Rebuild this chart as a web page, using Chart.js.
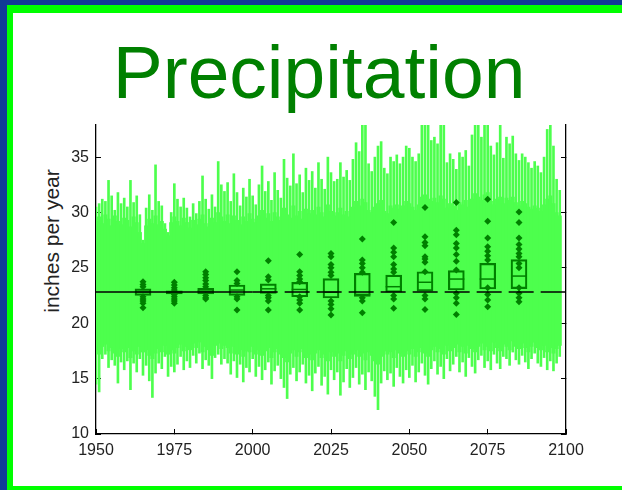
<!DOCTYPE html>
<html>
<head>
<meta charset="utf-8">
<script src="https://cdn.jsdelivr.net/npm/chart.js@4.4.0/dist/chart.umd.min.js"></script>
<style>
  html, body { margin: 0; padding: 0; }
  body {
    width: 622px; height: 490px; position: relative; overflow: hidden;
    background: #113a97; font-family: "Liberation Sans", Arial, sans-serif;
  }
  #frame { position: absolute; left: 7px; top: 5px; right: 0; bottom: 0; background: #00ff00; }
  #page { position: absolute; left: 13px; top: 13px; right: 0; bottom: 4px; background: #fff; }
  #title {
    position: absolute; left: 0; width: 638px; top: 35px;
    text-align: center; font-size: 75px; line-height: 75px; color: #008000;
  }
  #ylabel {
    position: absolute; left: 52px; top: 241px; white-space: nowrap;
    transform: translate(-50%, -50%) rotate(-90deg);
    font-size: 21px; color: #222;
  }
  #wrap { position: absolute; left: 0; top: 0; width: 622px; height: 490px; }
</style>
</head>
<body>
<div id="frame"></div>
<div id="page"></div>
<div id="title">Precipitation</div>
<div id="ylabel">inches per year</div>
<div id="wrap"><canvas id="precipChart"></canvas></div>

<script>
// ensemble spread, one value per year starting 1950
const firstYear = 1950;
// extreme members (spikes)
const envMax = [
  30.5, 30.8, 31.2, 31.0, 32.9, 31.5, 30.2, 31.8, 30.8, 31.3,
  30.5, 32.9, 30.9, 31.5, 29.8, 27.5, 30.4, 31.6, 30.2, 34.3,
  31.0, 30.6, 29.0, 28.2, 30.0, 32.6, 31.2, 30.5, 31.3, 30.4,
  29.6, 30.8, 29.9, 31.0, 33.3, 31.2, 30.3, 31.6, 30.5, 34.6,
  32.5, 31.9, 32.7, 31.0, 33.5, 31.8, 30.6, 32.2, 31.4, 33.0,
  31.5, 30.7, 32.5, 34.2, 31.9, 32.8, 31.1, 33.6, 32.0, 31.3,
  34.8, 33.1, 32.4, 35.3, 32.6, 33.4, 31.8, 34.0, 32.9, 33.7,
  32.2, 34.5, 33.0, 32.1, 35.0, 33.6, 32.8, 33.0, 34.5, 33.2,
  33.8, 32.9, 34.8, 36.3, 35.5, 37.9, 37.9, 34.4, 33.7, 35.0,
  36.0, 36.4, 34.0, 33.5, 35.0, 34.6, 35.2, 34.4, 35.0, 36.0,
  35.8, 35.0, 34.6, 35.3, 37.9, 37.9, 37.9, 36.5, 36.8, 36.2,
  37.9, 37.9, 34.5, 35.3, 34.8, 33.9, 35.4, 35.0, 35.6, 34.2,
  37.0, 37.9, 37.9, 36.8, 37.9, 37.9, 36.0, 35.2, 36.3, 37.9,
  34.9, 36.8, 36.2, 36.9, 35.3, 34.7, 35.3, 35.0, 34.5, 34.0,
  34.6, 34.2, 33.6, 35.0, 37.5, 37.9, 36.0, 33.0, 32.0
];
const envMin = [
  14.5, 13.8, 16.8, 17.2, 16.0, 16.7, 16.2, 14.6, 16.5, 15.8,
  16.6, 14.0, 16.4, 15.6, 16.8, 15.3, 16.2, 14.8, 13.3, 15.5,
  16.4, 15.9, 17.0, 15.2, 16.1, 15.6, 16.3, 17.0, 15.8, 16.6,
  16.0, 17.1, 16.4, 17.3, 15.9, 16.7, 16.2, 15.0, 16.9, 17.2,
  16.3, 16.8, 16.4, 15.4, 16.6, 15.1, 16.3, 14.7, 16.0, 15.6,
  16.8, 15.2, 16.1, 14.9, 15.8, 16.5, 14.5, 15.7, 16.2, 15.0,
  14.2, 13.2, 15.4, 16.0, 14.8, 15.6, 16.3, 14.6, 15.3, 13.9,
  15.5, 16.1, 14.4, 15.2, 13.6, 15.8, 14.9, 15.6, 13.5, 14.7,
  15.9, 14.2, 15.1, 16.0, 14.5, 15.4, 14.0, 15.6, 14.8, 13.4,
  12.2, 14.6, 15.7, 14.9, 15.5, 14.3, 16.0, 15.2, 14.6, 15.8,
  15.1, 16.2, 14.7, 15.6, 16.4, 15.3, 14.5, 15.9, 16.6, 15.4,
  16.1, 15.0, 16.8, 15.7, 16.3, 17.0, 15.6, 16.5, 15.2, 16.9,
  16.1, 15.5, 16.7, 17.1, 16.0, 16.6, 15.8, 17.2, 16.4, 15.9,
  17.0, 16.8, 16.2, 17.4, 16.7, 16.3, 17.1, 16.5, 15.9, 16.8,
  17.3, 16.4, 16.1, 16.9, 15.8, 16.6, 15.7, 16.4, 17.0
];
// solid core of the ensemble
const denseHi = [
  29.2, 29.6, 29.0, 29.8, 29.4, 28.8, 29.7, 29.2, 28.9, 29.5,
  29.3, 28.7, 29.6, 29.1, 28.2, 27.2, 28.8, 29.4, 29.0, 29.7,
  28.9, 29.2, 28.5, 27.9, 29.1, 29.6, 29.2, 28.8, 29.5, 29.1,
  28.6, 29.3, 28.9, 29.4, 29.8, 29.0, 28.7, 29.5, 29.1, 30.0,
  29.6, 29.2, 29.8, 29.0, 29.7, 29.3, 28.9, 29.6, 29.2, 29.9,
  29.4, 29.1, 29.7, 30.2, 29.5, 29.9, 29.2, 30.0, 29.6, 29.3,
  30.4, 29.8, 29.5, 30.6, 29.7, 30.1, 29.4, 30.3, 29.9, 30.2,
  29.8, 30.5, 30.0, 29.6, 30.7, 30.1, 29.7, 30.0, 30.4, 29.8,
  30.1, 29.6, 30.5, 31.0, 30.6, 31.2, 30.9, 30.2, 30.0, 30.5,
  30.8, 31.1, 30.1, 29.9, 30.6, 30.4, 30.7, 30.3, 30.6, 31.0,
  30.8, 30.5, 30.2, 30.7, 31.4, 31.6, 31.2, 31.0, 31.3, 30.9,
  31.5, 31.2, 30.4, 30.8, 30.6, 30.2, 30.9, 30.7, 31.1, 30.5,
  31.2, 31.7, 31.4, 31.1, 31.6, 31.8, 31.0, 30.7, 31.2, 31.4,
  30.8, 31.3, 31.1, 31.4, 30.9, 30.6, 31.0, 30.8, 30.5, 30.3,
  30.6, 30.4, 30.1, 30.7, 31.2, 31.5, 30.8, 30.0, 29.7
];
const denseLo = [
  17.6, 17.2, 17.9, 18.1, 17.5, 17.8, 17.3, 17.0, 17.7, 17.4,
  17.8, 16.9, 17.5, 17.2, 17.9, 17.4, 17.6, 17.1, 16.8, 17.3,
  17.7, 17.4, 18.0, 17.2, 17.6, 17.3, 17.8, 18.1, 17.5, 17.9,
  17.6, 18.2, 17.8, 18.3, 17.4, 17.9, 17.6, 17.1, 18.0, 18.2,
  17.7, 18.0, 17.8, 17.3, 17.9, 17.2, 17.6, 17.0, 17.5, 17.4,
  17.9, 17.2, 17.6, 17.1, 17.5, 17.8, 16.9, 17.4, 17.7, 17.2,
  16.9, 16.5, 17.3, 17.6, 17.0, 17.4, 17.7, 16.9, 17.2, 16.7,
  17.3, 17.6, 16.9, 17.2, 16.6, 17.4, 17.0, 17.3, 16.6, 17.1,
  17.5, 16.8, 17.2, 17.6, 17.0, 17.3, 16.7, 17.4, 17.1, 16.6,
  16.3, 17.0, 17.5, 17.2, 17.4, 16.9, 17.6, 17.3, 17.0, 17.5,
  17.2, 17.7, 17.0, 17.4, 17.8, 17.3, 17.0, 17.6, 17.9, 17.4,
  17.7, 17.2, 18.0, 17.5, 17.8, 18.1, 17.4, 17.9, 17.3, 18.0,
  17.7, 17.4, 17.9, 18.2, 17.6, 17.9, 17.5, 18.3, 17.8, 17.5,
  18.1, 17.9, 17.6, 18.4, 17.9, 17.7, 18.2, 17.8, 17.4, 17.9,
  18.3, 17.8, 17.6, 18.0, 17.4, 17.8, 17.3, 17.7, 18.0
];

// decade box plots
const boxYears = [1965, 1975, 1985, 1995, 2005, 2015, 2025, 2035, 2045, 2055, 2065, 2075, 2085];
const boxQ1  = [22.52, 22.64, 22.64, 22.52, 22.70, 22.39, 22.28, 22.42, 22.80, 22.90, 23.00, 23.09, 23.12];
const boxMed = [22.82, 22.80, 22.90, 23.00, 23.11, 23.05, 22.80, 22.60, 23.30, 23.70, 23.99, 23.99, 24.26];
const boxQ3  = [23.11, 22.93, 23.15, 23.45, 23.55, 23.69, 24.03, 24.50, 24.35, 24.65, 24.75, 25.40, 25.75];
const boxPoints = [
  [23.75, 23.5, 23.3, 22.4, 22.2, 22.0, 21.8, 21.4],
  [23.7, 23.45, 23.2, 23.0, 22.6, 22.4, 22.2, 22.0, 21.8],
  [24.65, 24.4, 24.1, 23.85, 23.55, 23.3, 22.5, 22.3, 22.2],
  [24.65, 23.85, 23.6, 22.4, 22.2, 21.2],
  [25.65, 24.2, 23.9, 22.5, 22.3, 22.0, 21.2],
  [26.2, 24.65, 24.3, 24.0, 23.75, 22.4, 22.1, 21.8, 21.2],
  [26.3, 26.0, 25.3, 25.0, 24.6, 24.3, 22.0, 21.7, 21.3, 20.75],
  [27.6, 25.7, 25.4, 25.0, 24.6, 22.3, 22.0, 20.95],
  [29.1, 26.8, 26.4, 26.0, 25.3, 24.9, 24.6, 22.5, 22.2, 21.35],
  [30.45, 27.8, 27.3, 27.0, 26.0, 25.8, 25.5, 24.65, 22.5, 22.2, 21.25],
  [30.9, 28.4, 28.0, 27.2, 26.8, 26.2, 25.6, 24.8, 22.7, 22.3, 21.8, 20.8],
  [31.2, 29.2, 27.7, 26.9, 26.5, 26.1, 25.7, 23.2, 22.6, 22.1, 21.5],
  [30.05, 29.1, 27.7, 27.1, 26.7, 26.3, 26.0, 25.4, 25.0, 23.2, 22.7, 22.3, 21.95]
];

// historical mean line
const meanValue = 22.82;
const meanSolidYears = [1950, 2000];
const meanDashedYears = [2000, 2100];

const xTicks = { min: 1950, max: 2100, step: 25 };
const yTicks = { min: 10, max: 37.9, step: 5 };

const darkGreen = '#008000';
const spreadGreen = '#4dff4d';
const tickFont = { family: '"Liberation Sans", Arial, sans-serif', size: 16 };

const envData = envMax.map((hi, i) => ({ x: firstYear + i, y: [envMin[i], hi] }));
const denseData = denseHi.map((hi, i) => ({ x: firstYear + i, y: [denseLo[i], hi] }));
const boxData = boxYears.map((yr, i) => ({ x: yr, y: [boxQ1[i], boxQ3[i]] }));
const medData = boxYears.map((yr, i) => ({ x: yr, y: boxMed[i] }));
const pointData = [];
boxYears.forEach((yr, i) => boxPoints[i].forEach(v => pointData.push({ x: yr, y: v })));

const ctx = document.getElementById('precipChart');

new Chart(ctx, {
  type: 'bar',
  data: {
    datasets: [
      {
        type: 'bar',
        data: envData,
        backgroundColor: spreadGreen,
        borderWidth: 0,
        barThickness: 2,
        grouped: false,
        order: 7
      },
      {
        type: 'bar',
        data: denseData,
        backgroundColor: spreadGreen,
        borderWidth: 0,
        barThickness: 3.4,
        grouped: false,
        order: 6
      },
      {
        type: 'bar',
        data: boxData,
        backgroundColor: 'rgba(0,0,0,0)',
        borderColor: darkGreen,
        borderWidth: 1.5,
        borderSkipped: false,
        barThickness: 16,
        grouped: false,
        order: 5
      },
      {
        type: 'scatter',
        data: pointData,
        pointStyle: 'rectRot',
        pointRadius: 3.5,
        backgroundColor: darkGreen,
        borderWidth: 0,
        order: 4
      },
      {
        type: 'scatter',
        data: medData,
        pointStyle: 'line',
        pointRadius: 8,
        borderColor: darkGreen,
        borderWidth: 1.5,
        order: 3
      },
      {
        type: 'line',
        data: meanSolidYears.map(yr => ({ x: yr, y: meanValue })),
        borderColor: '#000',
        borderWidth: 1.5,
        pointRadius: 0,
        order: 2
      },
      {
        type: 'line',
        data: meanDashedYears.map(yr => ({ x: yr, y: meanValue })),
        borderColor: '#000',
        borderWidth: 1.5,
        borderDash: [25, 7],
        pointRadius: 0,
        order: 1
      }
    ]
  },
  options: {
    responsive: true,
    maintainAspectRatio: false,
    animation: false,
    layout: { padding: { left: 36, right: 56, top: 125, bottom: 16 } },
    plugins: {
      legend: { display: false },
      tooltip: { enabled: false }
    },
    scales: {
      x: {
        type: 'linear',
        position: 'bottom',
        min: xTicks.min,
        max: xTicks.max,
        offset: false,
        z: 1,
        afterFit: s => { s.height = 40; },
        grid: { offset: false, drawOnChartArea: false, tickLength: -5, color: '#000' },
        border: { display: true, color: '#000', width: 1.3 },
        ticks: {
          stepSize: xTicks.step,
          padding: 12,
          color: '#222',
          font: tickFont,
          maxRotation: 0,
          callback: v => String(v)
        }
      },
      y: {
        position: 'left',
        min: yTicks.min,
        max: yTicks.max,
        z: 1,
        afterFit: s => { s.width = 60; },
        grid: { drawOnChartArea: false, tickLength: -5, color: '#000' },
        border: { display: true, color: '#000', width: 1.3 },
        ticks: {
          stepSize: yTicks.step,
          includeBounds: false,
          padding: 12,
          color: '#222',
          font: tickFont
        }
      },
      y2: {
        position: 'right',
        min: yTicks.min,
        max: yTicks.max,
        z: 1,
        afterFit: s => { s.width = 0; },
        grid: { drawOnChartArea: false, tickLength: -5, color: '#000' },
        border: { display: true, color: '#000', width: 1.3 },
        ticks: {
          stepSize: yTicks.step,
          includeBounds: false,
          callback: () => ''
        }
      }
    }
  }
});
</script>
</body>
</html>
